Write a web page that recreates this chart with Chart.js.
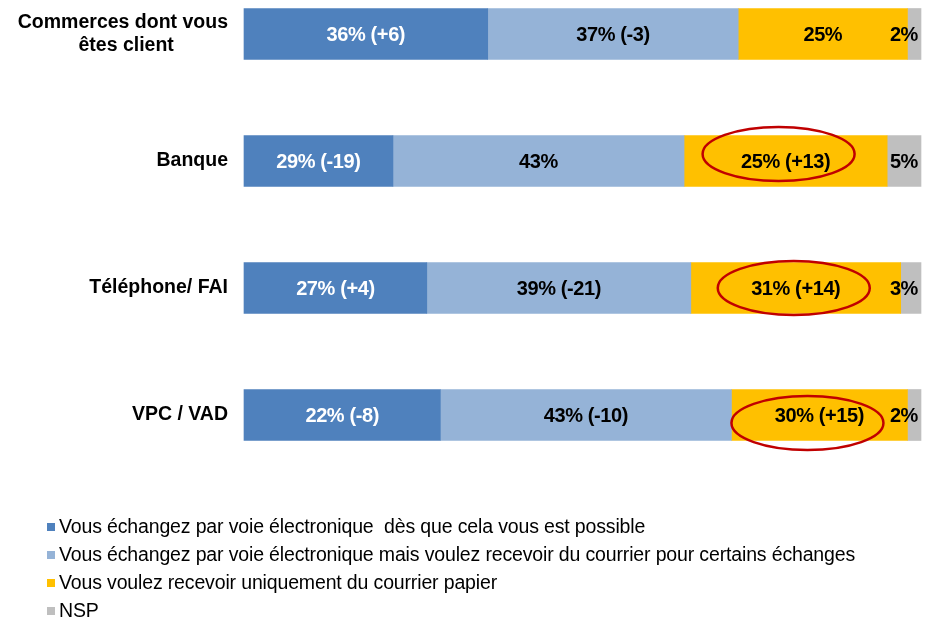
<!DOCTYPE html>
<html>
<head>
<meta charset="utf-8">
<script src="https://cdn.jsdelivr.net/npm/chart.js@4/dist/chart.umd.min.js"></script>
<style>
    html, body {
        margin: 0;
        padding: 0;
        background: #ffffff;
    }
    #wrap {
        position: relative;
        width: 935px;
        height: 621px;
    }
    #legend {
        position: absolute;
        left: 47px;
        top: 512px;
        font-family: "Liberation Sans", Arial, sans-serif;
        font-size: 19.5px;
        letter-spacing: -0.15px;
        color: #000000;
    }
    #legend .item {
        height: 28px;
        line-height: 28px;
        white-space: pre;
    }
    #legend .box {
        display: inline-block;
        width: 8px;
        height: 8px;
        margin-right: 4px;
        vertical-align: 2px;
    }
</style>
</head>
<body>
<div id="wrap">
    <canvas id="chart"></canvas>
    <div id="legend"></div>
</div>
<script>
const categories = [["Commerces dont vous", "êtes client          "], "Banque", "Téléphone/ FAI", "VPC / VAD"];

const seriesNames = [
    "Vous échangez par voie électronique  dès que cela vous est possible",
    "Vous échangez par voie électronique mais voulez recevoir du courrier pour certains échanges",
    "Vous voulez recevoir uniquement du courrier papier",
    "NSP"
];
const seriesColors = ["#4f81bd", "#95b3d7", "#ffc000", "#bfbfbf"];

// longueurs des barres telles que dessinées
const electroniqueValues = [36, 22, 27, 29];
const mixteValues = [37, 43, 39, 43];
const papierValues = [25, 30, 31, 26];
const nspValues = [2, 5, 3, 2];

// textes affichés dans les barres
const electroniqueLabels = ["36% (+6)", "29% (-19)", "27% (+4)", "22% (-8)"];
const mixteLabels = ["37% (-3)", "43%", "39% (-21)", "43% (-10)"];
const papierLabels = ["25%", "25% (+13)", "31% (+14)", "30% (+15)"];
const nspLabels = ["2%", "5%", "3%", "2%"];

const papierCircled = [false, true, true, true];

const FONT = "'Liberation Sans', Arial, sans-serif";

const seriesValues = [electroniqueValues, mixteValues, papierValues, nspValues];
const seriesLabels = [electroniqueLabels, mixteLabels, papierLabels, nspLabels];

const barLabelsPlugin = {
    id: "barLabels",
    afterDatasetsDraw(chart) {
        const ctx = chart.ctx;
        ctx.save();
        ctx.font = "bold 20px " + FONT;
        ctx.letterSpacing = "-0.4px";
        ctx.textBaseline = "middle";
        chart.data.datasets.forEach((dataset, di) => {
            const meta = chart.getDatasetMeta(di);
            meta.data.forEach((bar, i) => {
                const text = seriesLabels[di][i];
                ctx.fillStyle = di === 0 ? "#ffffff" : "#000000";
                if (di === 3) {
                    ctx.textAlign = "right";
                    ctx.fillText(text, bar.x - 3, bar.y + 1);
                } else {
                    ctx.textAlign = "center";
                    ctx.fillText(text, (bar.x + bar.base) / 2, bar.y + 1);
                }
            });
        });

        // cercles rouges autour des évolutions du courrier papier
        const meta = chart.getDatasetMeta(2);
        const shifts = [[0, 0], [-7, -7], [-2, 0], [-12, 8]];
        ctx.strokeStyle = "#c00000";
        ctx.lineWidth = 2.5;
        meta.data.forEach((bar, i) => {
            if (!papierCircled[i]) {
                return;
            }
            const cx = (bar.x + bar.base) / 2 + shifts[i][0];
            const cy = bar.y + shifts[i][1];
            ctx.beginPath();
            ctx.ellipse(cx, cy, 76, 27, 0, 0, Math.PI * 2);
            ctx.stroke();
        });
        ctx.restore();
    }
};

new Chart(document.getElementById("chart"), {
    type: "bar",
    data: {
        labels: categories,
        datasets: seriesNames.map((name, i) => ({
            label: name,
            data: seriesValues[i],
            backgroundColor: seriesColors[i],
            borderWidth: 0,
            barThickness: 51,
            clip: false
        }))
    },
    options: {
        indexAxis: "y",
        responsive: true,
        maintainAspectRatio: false,
        animation: false,
        layout: {
            padding: { top: 34, right: 14, bottom: 206, left: 0 }
        },
        plugins: {
            legend: { display: false },
            tooltip: { enabled: false }
        },
        scales: {
            x: {
                stacked: true,
                min: 0,
                max: 100,
                display: false
            },
            y: {
                stacked: true,
                offset: false,
                grid: { display: false },
                border: { display: false },
                afterFit(scale) {
                    scale.width = 244;
                },
                ticks: {
                    color: "#000000",
                    padding: 8,
                    font: { family: FONT, size: 19.5, weight: "bold", lineHeight: 1.2 }
                }
            }
        }
    },
    plugins: [barLabelsPlugin]
});

const legendEl = document.getElementById("legend");
seriesNames.forEach((name, i) => {
    const item = document.createElement("div");
    item.className = "item";
    const box = document.createElement("span");
    box.className = "box";
    box.style.background = seriesColors[i];
    item.appendChild(box);
    item.appendChild(document.createTextNode(name));
    legendEl.appendChild(item);
});
</script>
</body>
</html>
